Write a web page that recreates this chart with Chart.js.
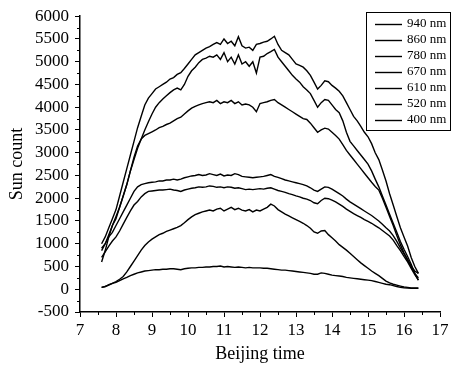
<!DOCTYPE html>
<html>
<head>
<meta charset="utf-8">
<script src="https://cdn.jsdelivr.net/npm/chart.js@4.4.0/dist/chart.umd.min.js"></script>
<style>
html,body{margin:0;padding:0;background:#fff;}
canvas{display:block;}
</style>
</head>
<body>
<canvas id="c" width="453" height="365"></canvas>
<script>
// Beijing time (hours)
const times = [7.6,7.7,7.8,7.9,8.0,8.1,8.2,8.3,8.4,8.5,
 8.6,8.7,8.8,8.9,9.0,9.1,9.2,9.3,9.4,9.5,
 9.6,9.7,9.8,9.9,10.0,10.1,10.2,10.3,10.4,10.5,
 10.6,10.7,10.8,10.9,11.0,11.1,11.2,11.3,11.4,11.5,
 11.6,11.7,11.8,11.9,12.0,12.1,12.2,12.3,12.4,12.5,
 12.6,12.7,12.8,12.9,13.0,13.1,13.2,13.3,13.4,13.5,
 13.6,13.7,13.8,13.9,14.0,14.1,14.2,14.3,14.4,14.5,
 14.6,14.7,14.8,14.9,15.0,15.1,15.2,15.3,15.4,15.5,
 15.6,15.7,15.8,15.9,16.0,16.1,16.2,16.3,16.4];

const labels = ["940 nm","860 nm","780 nm","670 nm","610 nm","520 nm","400 nm"];

const s940 = [1000,1150,1350,1550,1750,2050,2350,2650,2950,3250,
 3550,3800,4050,4200,4300,4400,4450,4500,4550,4620,
 4650,4720,4760,4850,4950,5050,5150,5200,5250,5300,
 5330,5380,5420,5380,5500,5400,5450,5350,5550,5350,
 5300,5320,5250,5380,5400,5430,5450,5500,5560,5380,
 5250,5200,5150,5050,4950,4920,4880,4800,4700,4550,
 4400,4480,4580,4560,4480,4420,4350,4250,4100,3950,
 3800,3700,3580,3450,3350,3200,3000,2850,2620,2380,
 2100,1850,1600,1350,1150,950,700,500,350];

const s860 = [850,1000,1200,1400,1550,1800,2050,2300,2600,2850,
 3100,3300,3500,3680,3850,4000,4100,4180,4250,4320,
 4380,4420,4380,4500,4680,4800,4880,4980,5050,5080,
 5120,5100,5150,5050,5200,5000,5100,4950,5150,4950,
 5000,4900,5000,4750,5100,5120,5180,5220,5270,5100,
 5000,4900,4800,4700,4620,4550,4450,4380,4300,4150,
 4000,4100,4170,4150,4050,3950,3880,3700,3450,3250,
 3150,3050,2950,2850,2750,2600,2420,2250,2050,1850,
 1650,1450,1250,1050,880,720,550,350,200];

const s780 = [600,850,1150,1400,1600,1800,2050,2300,2600,2900,
 3150,3300,3380,3420,3460,3500,3550,3580,3620,3650,
 3700,3750,3780,3850,3920,3980,4020,4050,4080,4100,
 4120,4100,4150,4080,4120,4100,4150,4080,4120,4050,
 4070,4050,4000,3900,4080,4100,4120,4150,4170,4100,
 4050,4000,3950,3900,3850,3800,3750,3730,3650,3550,
 3450,3500,3540,3520,3450,3380,3300,3180,3050,2950,
 2850,2750,2650,2550,2450,2350,2260,2180,2000,1800,
 1600,1400,1180,980,800,650,500,350,250];

const s670 = [900,1000,1150,1250,1400,1550,1700,1850,2000,2150,
 2250,2300,2320,2340,2350,2360,2380,2380,2400,2400,
 2420,2400,2420,2450,2470,2490,2500,2520,2500,2510,
 2540,2520,2500,2530,2490,2510,2500,2540,2520,2480,
 2470,2460,2450,2460,2470,2480,2500,2520,2480,2460,
 2430,2400,2380,2360,2340,2320,2300,2270,2230,2180,
 2150,2200,2250,2240,2200,2150,2100,2050,1980,1920,
 1870,1820,1770,1720,1670,1620,1560,1500,1430,1350,
 1280,1180,1050,910,780,640,500,400,350];

const s610 = [700,820,950,1060,1150,1280,1430,1580,1720,1850,
 1930,2030,2100,2150,2160,2170,2180,2180,2190,2200,
 2180,2170,2150,2180,2200,2220,2230,2250,2240,2250,
 2270,2260,2240,2250,2230,2250,2240,2220,2230,2210,
 2190,2200,2190,2200,2210,2200,2220,2230,2200,2170,
 2150,2130,2100,2080,2050,2030,2000,1980,1950,1900,
 1880,1950,2000,1990,1960,1920,1870,1820,1760,1710,
 1660,1620,1580,1530,1490,1450,1400,1350,1290,1230,
 1170,1080,960,850,720,600,460,320,200];

const s520 = [40,60,90,130,170,220,280,380,500,620,
 740,860,960,1040,1100,1150,1200,1230,1270,1300,
 1330,1360,1400,1460,1530,1590,1640,1670,1700,1720,
 1740,1720,1760,1780,1720,1760,1800,1750,1780,1740,
 1720,1750,1700,1740,1720,1760,1800,1870,1830,1750,
 1700,1650,1610,1570,1530,1490,1450,1400,1340,1260,
 1230,1280,1290,1200,1130,1060,980,920,860,790,
 720,650,580,520,460,400,350,300,240,180,
 140,110,90,70,50,40,30,30,30];

const s400 = [40,60,100,130,150,190,230,260,300,330,
 360,380,400,410,420,430,430,440,440,450,
 450,440,430,450,460,470,470,480,480,490,
 490,500,500,510,490,500,490,480,490,480,
 470,480,470,470,470,460,460,450,440,430,
 420,420,410,400,390,380,370,360,350,330,
 330,360,350,330,310,300,290,280,260,250,
 240,230,220,210,200,190,170,150,130,110,
 100,80,60,40,30,25,20,20,20];

const series = [s940,s860,s780,s670,s610,s520,s400];

const xTicks = [7,8,9,10,11,12,13,14,15,16,17];
const yTicks = [-500,0,500,1000,1500,2000,2500,3000,3500,4000,4500,5000,5500,6000];

const FONT = "'Liberation Serif','Times New Roman',serif";

const datasets = series.map((vals, i) => ({
  label: labels[i],
  data: times.map((t, j) => ({x: t, y: vals[j]})),
  borderColor: '#000',
  borderWidth: 1.4,
  pointRadius: 0,
  fill: false,
  tension: 0
}));

const minorTicks = {
  id: 'minorTicks',
  afterDraw(chart) {
    const ctx = chart.ctx;
    const xs = chart.scales.x, ys = chart.scales.y;
    ctx.save();
    ctx.strokeStyle = '#000';
    ctx.lineWidth = 1;
    ctx.beginPath();
    for (let i = 0; i < xTicks.length - 1; i++) {
      const px = Math.round(xs.getPixelForValue((xTicks[i] + xTicks[i+1]) / 2)) + 0.5;
      ctx.moveTo(px, ys.bottom);
      ctx.lineTo(px, ys.bottom + 3);
    }
    for (let i = 0; i < yTicks.length - 1; i++) {
      const py = Math.round(ys.getPixelForValue((yTicks[i] + yTicks[i+1]) / 2)) + 0.5;
      ctx.moveTo(xs.left, py);
      ctx.lineTo(xs.left - 3, py);
    }
    ctx.stroke();
    ctx.restore();
  }
};

const boxLegend = {
  id: 'boxLegend',
  afterDraw(chart) {
    const ctx = chart.ctx;
    const left = 366, top = 12, right = 451, rowH = 16;
    const n = chart.data.datasets.length;
    const bottom = top + 6 + n * rowH;
    ctx.save();
    ctx.fillStyle = '#fff';
    ctx.fillRect(left, top, right - left, bottom - top);
    ctx.strokeStyle = '#000';
    ctx.lineWidth = 1;
    ctx.strokeRect(left + 0.5, top + 0.5, right - left - 1, bottom - top);
    ctx.font = "13px " + FONT;
    ctx.textBaseline = 'middle';
    ctx.fillStyle = '#000';
    chart.data.datasets.forEach((ds, i) => {
      const y = top + 12 + i * rowH;
      ctx.beginPath();
      ctx.lineWidth = ds.borderWidth;
      ctx.moveTo(375, y + 0.5);
      ctx.lineTo(402, y + 0.5);
      ctx.stroke();
      ctx.fillText(ds.label, 407, y);
    });
    ctx.restore();
  }
};

new Chart(document.getElementById('c'), {
  type: 'line',
  data: { datasets },
  options: {
    responsive: false,
    animation: false,
    layout: { padding: { top: 15, right: 13, left: 0, bottom: 0 } },
    plugins: { legend: { display: false }, tooltip: { enabled: false } },
    scales: {
      x: {
        type: 'linear',
        min: 7, max: 17,
        afterBuildTicks(scale) { scale.ticks = xTicks.map(v => ({value: v})); },
        afterFit(scale) { scale.height = 53; },
        grid: { drawOnChartArea: false, drawTicks: true, tickLength: 5, color: '#000', tickWidth: 1 },
        border: { color: '#000', width: 1.5 },
        ticks: { color: '#000', font: { family: FONT, size: 17 }, padding: 3, maxRotation: 0, autoSkip: false, callback: v => String(v) },
        title: { display: true, text: 'Beijing time', color: '#000', font: { family: FONT, size: 18 }, padding: { top: 0, bottom: 0 } }
      },
      y: {
        type: 'linear',
        min: -500, max: 6000,
        afterBuildTicks(scale) { scale.ticks = yTicks.map(v => ({value: v})); },
        afterFit(scale) { scale.width = 80; },
        grid: { drawOnChartArea: false, drawTicks: true, tickLength: 5, color: '#000', tickWidth: 1 },
        border: { color: '#000', width: 1.5 },
        ticks: { color: '#000', font: { family: FONT, size: 17 }, padding: 6, autoSkip: false, callback: v => String(v) },
        title: { display: true, text: 'Sun count', color: '#000', font: { family: FONT, size: 18 }, padding: { top: 6, bottom: 0 } }
      }
    }
  },
  plugins: [minorTicks, boxLegend]
});
</script>
</body>
</html>
